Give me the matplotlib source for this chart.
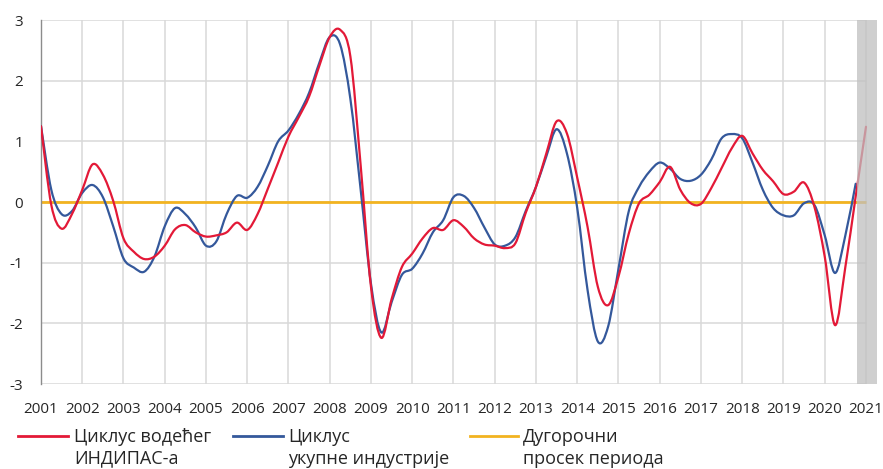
import numpy as np
import matplotlib
matplotlib.use("Agg")
import matplotlib.pyplot as plt
from matplotlib.lines import Line2D
from matplotlib.path import Path
from matplotlib.patches import PathPatch

plt.rcParams['font.family'] = ['Open Sans', 'DejaVu Sans']

# Quarterly observations, 2001Q1 ... 2021Q1
indipas = [1.25, -0.05, -0.44, -0.20,
           0.20, 0.62, 0.45, 0.02,
           -0.60, -0.82, -0.94, -0.90,
           -0.72, -0.45, -0.38, -0.50,
           -0.57, -0.55, -0.50, -0.34,
           -0.46, -0.20, 0.22, 0.65,
           1.08, 1.40, 1.74, 2.25,
           2.72, 2.84, 2.40, 0.60,
           -1.40, -2.24, -1.60, -1.07,
           -0.85, -0.60, -0.43, -0.46,
           -0.30, -0.41, -0.60, -0.70,
           -0.72, -0.76, -0.68, -0.18,
           0.25, 0.80, 1.33, 1.13,
           0.40, -0.41, -1.40, -1.70,
           -1.23, -0.52, -0.02, 0.12,
           0.33, 0.58, 0.20, -0.02,
           -0.03, 0.23, 0.56, 0.89,
           1.09, 0.80, 0.53, 0.34,
           0.13, 0.17, 0.32, -0.08,
           -0.90, -2.03, -1.07, 0.09,
           1.24]

industry = [1.25, 0.20, -0.20, -0.15,
            0.15, 0.28, 0.08, -0.40,
            -0.93, -1.08, -1.15, -0.90,
            -0.40, -0.10, -0.20, -0.42,
            -0.72, -0.65, -0.20, 0.10,
            0.07, 0.25, 0.60, 1.00,
            1.18, 1.45, 1.80, 2.30,
            2.72, 2.60, 1.70, 0.20,
            -1.35, -2.15, -1.65, -1.20,
            -1.10, -0.85, -0.50, -0.30,
            0.08, 0.10, -0.10, -0.42,
            -0.70, -0.72, -0.58, -0.15,
            0.25, 0.75, 1.20, 0.80,
            -0.10, -1.45, -2.30, -2.05,
            -1.10, -0.15, 0.25, 0.50,
            0.65, 0.55, 0.38, 0.35,
            0.45, 0.70, 1.05, 1.12,
            1.05, 0.65, 0.20, -0.10,
            -0.22, -0.22, -0.02, -0.05,
            -0.55, -1.17, -0.55, 0.30]

long_run_mean = 0.0
years = list(range(2001, 2022))
year_labels = [str(y) for y in years]
shade_start, shade_end = 2020.78, 2021.27

labels = ["Циклус водећег\nИНДИПАС-а",
          "Циклус\nукупне индустрије",
          "Дугорочни\nпросек периода"]

red = '#e31937'
blue = '#34589b'
orange = '#f2b320'

t_red = 2001 + 0.25 * np.arange(len(indipas))
t_blue = 2001 + 0.25 * np.arange(len(industry))


def smooth_path(x, y):
    """Excel-style smoothed line: cubic Bezier segments through every data point."""
    p = np.column_stack([x, y])
    n = len(p)
    verts = [p[0]]
    codes = [Path.MOVETO]
    for i in range(n - 1):
        p0 = p[i - 1] if i > 0 else p[i]
        p1 = p[i]
        p2 = p[i + 1]
        p3 = p[i + 2] if i + 2 < n else p[i + 1]
        c1 = p1 + (p2 - p0) / 6.0
        c2 = p2 - (p3 - p1) / 6.0
        verts += [c1, c2, p2]
        codes += [Path.CURVE4] * 3
    return Path(np.array(verts), codes)


W, H = 883, 469
fig = plt.figure(figsize=(W / 100, H / 100), dpi=100)
ax = fig.add_axes([41 / W, 1 - 384 / H, (877 - 41) / W, (384 - 20) / H])

ax.set_xlim(2001, 2021.267)
ax.set_ylim(-3, 3)

# grid
for y in range(-3, 4):
    ax.plot([2001, 2021], [y, y], color='#d9d9d9', lw=1.1, zorder=1)
for x in years[1:]:
    ax.plot([x, x], [-3, 3], color='#d9d9d9', lw=1.1, zorder=1)

ax.plot([years[0], years[-1]], [long_run_mean, long_run_mean], color=orange, lw=2.0,
        zorder=2, solid_capstyle='butt')
ax.add_patch(PathPatch(smooth_path(t_blue, industry), facecolor='none', edgecolor=blue,
                       lw=1.6, zorder=3, joinstyle='round', capstyle='round'))
ax.add_patch(PathPatch(smooth_path(t_red, indipas), facecolor='none', edgecolor=red,
                       lw=1.6, zorder=4, joinstyle='round', capstyle='round'))

ax.axvspan(shade_start, shade_end, ymin=0, ymax=1.0, color='#c0c0c0', alpha=0.75, lw=0, zorder=5)

for s in ['top', 'right', 'bottom']:
    ax.spines[s].set_visible(False)
ax.spines['left'].set_color('#8c8c8c')
ax.spines['left'].set_linewidth(1.0)

ax.set_yticks(range(-3, 4))
ax.set_yticklabels([str(v) for v in range(-3, 4)])
ax.set_xticks(years)
ax.set_xticklabels(year_labels)
ax.tick_params(axis='both', length=0, labelsize=11)
ax.tick_params(axis='y', pad=13)
ax.tick_params(axis='x', pad=13)
for lab in ax.get_xticklabels() + ax.get_yticklabels():
    lab.set_color('#262626')

# legend (handles aligned with first text line)
legend_items = [(18, 68, 74, red), (233, 283, 288, blue), (470, 518, 523, orange)]
for (x0, x1, xt, c), lab in zip(legend_items, labels):
    yl = 1 - 436 / H
    fig.add_artist(Line2D([x0 / W, x1 / W], [yl, yl], color=c, lw=2.0, transform=fig.transFigure))
    first, second = lab.split("\n")
    fig.text(xt / W, 1 - 441.5 / H, first, ha='left', va='baseline', fontsize=13, color='#262626')
    fig.text(xt / W, 1 - 463.5 / H, second, ha='left', va='baseline', fontsize=13, color='#262626')

fig.savefig('out.png', dpi=100)
